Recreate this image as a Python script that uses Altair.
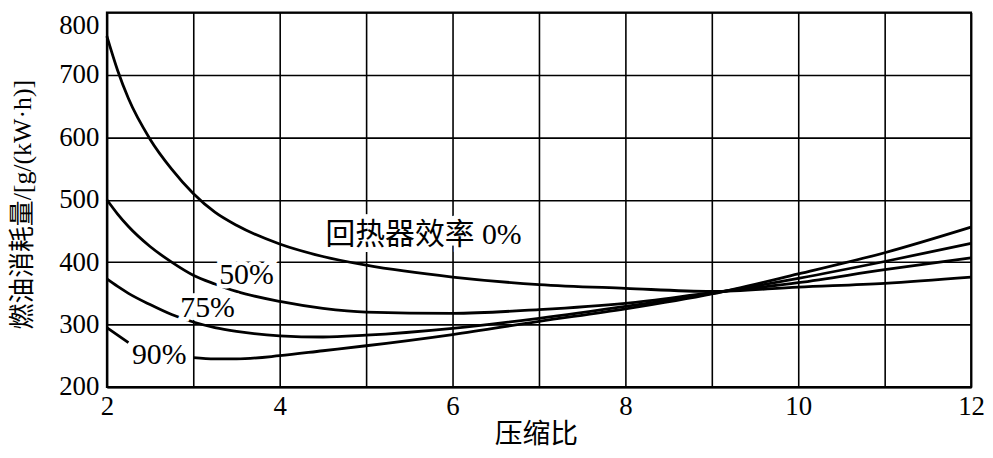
import altair as alt
import pandas as pd

# ---- data ----
x_main = [2, 2.125, 2.25, 2.5, 2.75, 3, 3.25, 3.5, 4, 4.5, 5, 6, 7, 8, 9, 10, 11, 12]
eff0 = [762, 707, 662, 597, 549, 510, 480, 459, 429, 409, 395, 376, 364, 358, 353, 360, 366, 376]
eff50 = [500, 477, 457, 425, 400, 379, 365, 353, 337, 326, 320, 318, 324, 334, 351, 367, 388, 407]
eff75 = [373, 361, 350, 332, 316, 304, 295, 289, 282, 280, 283, 294, 310, 329, 350, 374, 401, 430]
x_90a = [2, 2.125, 2.25]
eff90a = [295, 283, 271]
x_90b = [3, 3.25, 3.5, 4, 4.5, 5, 6, 7, 8, 9, 10, 11, 12]
eff90b = [247, 245, 245, 250, 258, 266, 284, 305, 325, 349, 381, 415, 456]

label_text = ["回热器效率 0%", "50%", "75%", "90%"]
label_x = [4.53, 3.30, 2.85, 2.29]
label_y = [443, 379, 327, 251]

x_ticks = list(range(2, 13))
y_ticks = list(range(200, 801, 100))

# ---- build tables ----
rows = []
for name, xs, ys in [("0%", x_main, eff0), ("50%", x_main, eff50),
                     ("75%", x_main, eff75), ("90%a", x_90a, eff90a),
                     ("90%b", x_90b, eff90b)]:
    for i, (a, b) in enumerate(zip(xs, ys)):
        rows.append({"series": name, "x": a, "y": b, "i": i})
df = pd.DataFrame(rows)
lab = pd.DataFrame({"t": label_text, "x": label_x, "y": label_y})

FONT = "'Liberation Serif', 'Noto Sans CJK SC', serif"

xscale = alt.Scale(domain=[2, 12], nice=False, zero=False)
yscale = alt.Scale(domain=[200, 800], nice=False, zero=False)

xaxis = alt.Axis(values=x_ticks, format="d",
                 labelExpr="datum.value % 2 == 0 ? datum.label : ''",
                 title="压缩比", titleX=432, titleY=48, titleBaseline="middle",
                 titleAlign="center", labelPadding=7, labelFlush=False,
                 titleFontSize=28)
yaxis = alt.Axis(values=y_ticks, format="d", title="燃油消耗量/[g/(kW·h)]", titleX=-85,
                 titleY=193, titleBaseline="middle", titleAlign="center",
                 titleAngle=-90, labelPadding=8,
                 labelBaseline={"condition": {"test": "datum.value == 800", "value": "top"},
                                "value": "middle"})

lines = alt.Chart(df).mark_line(color="black", strokeWidth=2.8, interpolate="monotone").encode(
    x=alt.X("x:Q", scale=xscale, axis=xaxis),
    y=alt.Y("y:Q", scale=yscale, axis=yaxis),
    detail="series:N",
    order="i:Q",
)

halo = alt.Chart(lab).mark_text(align="left", baseline="middle", font=FONT, fontSize=30,
                                fill="white", stroke="white", strokeWidth=9).encode(
    x=alt.X("x:Q", scale=xscale), y=alt.Y("y:Q", scale=yscale), text="t:N")
texts = alt.Chart(lab).mark_text(align="left", baseline="middle", font=FONT, fontSize=30,
                                 color="black").encode(
    x=alt.X("x:Q", scale=xscale), y=alt.Y("y:Q", scale=yscale), text="t:N")

chart = alt.layer(lines, halo, texts).properties(
    width=870, height=377,
    background="white",
    autosize=alt.AutoSizeParams(type="none"),
    padding={"left": 99.5, "top": 3, "right": 14, "bottom": 62},
).configure_view(stroke="black", strokeWidth=2).configure_axis(
    grid=True, gridColor="black", gridWidth=1.6, gridOpacity=1,
    domain=True, domainColor="black", domainWidth=2,
    ticks=False,
    labelFont=FONT, labelFontSize=27, labelColor="black",
    titleFont=FONT, titleFontSize=26, titleFontWeight="normal", titleColor="black",
)

chart.save("out.html", embed_options={"renderer": "svg", "actions": False})
